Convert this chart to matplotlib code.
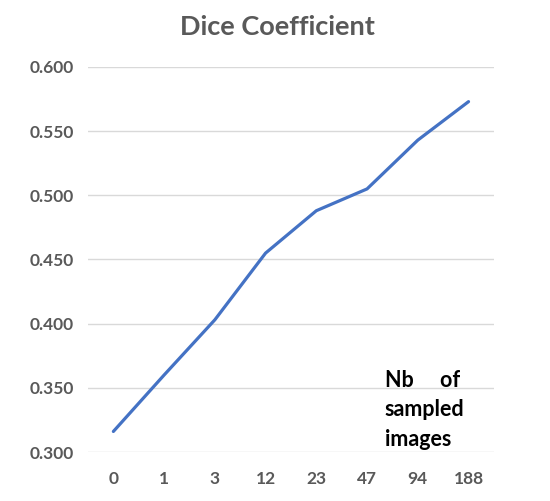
import matplotlib.pyplot as plt

categories = ['0', '1', '3', '12', '23', '47', '94', '188']
dice = [0.316, 0.360, 0.403, 0.455, 0.488, 0.505, 0.543, 0.573]
y_ticks = [0.300, 0.350, 0.400, 0.450, 0.500, 0.550, 0.600]

plt.rcParams['font.family'] = ['Lato', 'DejaVu Sans']

fig = plt.figure(figsize=(5.5, 5.01), dpi=100)
ax = fig.add_axes([0.16, 0.0978, 0.738, 0.7685])

x = list(range(len(categories)))
ax.plot(x, dice, color='#4472C4', linewidth=2.3, solid_capstyle='round')

ax.set_xlim(-0.5, len(categories) - 0.5)
ax.set_ylim(0.3, 0.6)
ax.set_xticks(x)
ax.set_xticklabels(categories)
ax.set_yticks(y_ticks)
ax.set_yticklabels([f'{v:.3f}' for v in y_ticks])

ax.grid(axis='y', color='#D9D9D9', linewidth=1)
ax.set_axisbelow(True)
for s in ax.spines.values():
    s.set_visible(False)
ax.tick_params(axis='x', length=0, labelsize=12.5, colors='#595959', pad=14)
ax.tick_params(axis='y', length=0, labelsize=12.5, colors='#595959', pad=10)
for lab in ax.get_xticklabels() + ax.get_yticklabels():
    lab.set_fontweight('bold')

fig.text(0.504, 0.946, 'Dice Coefficient', ha='center', va='center',
         fontsize=19.5, fontweight='bold', color='#595959')

ax.text(5.35, 0.333, 'Nb     of\nsampled\nimages', ha='left', va='center',
        fontsize=15.5, fontweight='bold', color='black', linespacing=1.5)

fig.savefig('out.png', dpi=100)
